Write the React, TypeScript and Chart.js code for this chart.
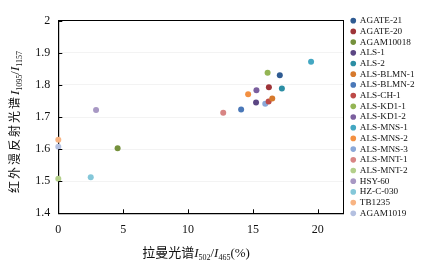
import React, { useEffect, useRef } from 'react';
import { Chart, registerables } from 'chart.js';

Chart.register(...registerables);

const seriesNames = [
  'AGATE-21', 'AGATE-20', 'AGAM10018', 'ALS-1', 'ALS-2', 'ALS-BLMN-1', 'ALS-BLMN-2',
  'ALS-CH-1', 'ALS-KD1-1', 'ALS-KD1-2', 'ALS-MNS-1', 'ALS-MNS-2', 'ALS-MNS-3',
  'ALS-MNT-1', 'ALS-MNT-2', 'HSY-60', 'HZ-C-030', 'TB1235', 'AGAM1019',
];
const ramanValues = [
  17.07, 16.23, 4.57, 15.24, 17.23, 16.49, 14.09, 16.21, 16.13, 15.27,
  19.48, 14.63, 15.95, 12.71, 0.0, 2.91, 2.5, 0.0, 0.0,
];
const infraredValues = [
  1.83, 1.793, 1.603, 1.745, 1.789, 1.758, 1.723, 1.748, 1.838, 1.783,
  1.872, 1.771, 1.741, 1.713, 1.508, 1.722, 1.512, 1.629, 1.607,
];
const seriesColors = [
  '#2f5b92', '#9e3438', '#75913c', '#5b4683', '#2c8ea4', '#d6792c', '#4a78b8',
  '#bd4a48', '#94b554', '#7b5f9e', '#43a7c2', '#f39041', '#8aa8d8', '#d88584',
  '#b3cf8a', '#a898c4', '#84c7d9', '#f8b483', '#b4c0e0',
];
const xTicks = [0, 5, 10, 15, 20];
const yTicks = [1.4, 1.5, 1.6, 1.7, 1.8, 1.9, 2.0];

const X_MIN = 0, X_MAX = 22, Y_MIN = 1.4, Y_MAX = 2.0;
const W = 439, H = 269;
const SERIF = '"Liberation Serif", "Times New Roman", serif';
const CJK = '"Noto Sans CJK SC", sans-serif';
const LEGEND_FONT_SIZE = 9.2;
const LEGEND_PAD = 1.5;

type Seg = { t: string; font: string; dy: number; sp?: number };

function segWidth(ctx: CanvasRenderingContext2D, s: Seg) {
  ctx.font = s.font;
  if (s.sp) {
    let w = 0;
    for (const ch of s.t) w += ctx.measureText(ch).width + s.sp;
    return w;
  }
  return ctx.measureText(s.t).width;
}

function drawRich(ctx: CanvasRenderingContext2D, segs: Seg[], cx: number, baseY: number) {
  let total = 0;
  for (const s of segs) total += segWidth(ctx, s);
  let x = cx - total / 2;
  ctx.textAlign = 'left';
  ctx.textBaseline = 'alphabetic';
  ctx.fillStyle = '#111';
  for (const s of segs) {
    ctx.font = s.font;
    if (s.sp) {
      for (const ch of s.t) {
        ctx.fillText(ch, x, baseY + s.dy);
        x += ctx.measureText(ch).width + s.sp;
      }
    } else {
      ctx.fillText(s.t, x, baseY + s.dy);
      x += ctx.measureText(s.t).width;
    }
  }
}

const xTitle: Seg[] = [
  { t: '拉曼光谱', font: `13px ${CJK}`, dy: 0 },
  { t: 'I', font: `italic 13px ${SERIF}`, dy: 0 },
  { t: '502', font: `8px ${SERIF}`, dy: 3 },
  { t: '/', font: `13px ${SERIF}`, dy: 0 },
  { t: 'I', font: `italic 13px ${SERIF}`, dy: 0 },
  { t: '465', font: `8px ${SERIF}`, dy: 3 },
  { t: '(%)', font: `13px ${SERIF}`, dy: 0 },
];
const yTitle: Seg[] = [
  { t: '红外漫反射光谱', font: `12px ${CJK}`, dy: 0, sp: 2 },
  { t: 'I', font: `italic 13px ${SERIF}`, dy: 0 },
  { t: '1095', font: `8px ${SERIF}`, dy: 3 },
  { t: '/', font: `13px ${SERIF}`, dy: 0 },
  { t: 'I', font: `italic 13px ${SERIF}`, dy: 0 },
  { t: '1157', font: `8px ${SERIF}`, dy: 3 },
];

const decorPlugin = {
  id: 'decor',
  beforeDraw(chart: any) {
    const ctx = chart.ctx;
    ctx.save();
    ctx.fillStyle = '#ffffff';
    ctx.fillRect(0, 0, chart.width, chart.height);
    ctx.restore();
  },
  afterDraw(chart: any) {
    const ctx: CanvasRenderingContext2D = chart.ctx;
    const { left, bottom } = chart.chartArea;
    const xs = chart.scales.x;
    const ys = chart.scales.y;
    ctx.save();
    ctx.strokeStyle = '#000';
    ctx.lineWidth = 1;
    ctx.beginPath();
    for (const v of xTicks) {
      const px = Math.round(xs.getPixelForValue(v)) + 0.5;
      ctx.moveTo(px, bottom);
      ctx.lineTo(px, bottom - 4);
    }
    for (const v of yTicks) {
      const py = Math.round(ys.getPixelForValue(v)) + 0.5;
      ctx.moveTo(left, py);
      ctx.lineTo(left + 4, py);
    }
    ctx.stroke();
    drawRich(ctx, xTitle, (chart.chartArea.left + chart.chartArea.right) / 2 - 5, 257);
    ctx.translate(19, (chart.chartArea.top + chart.chartArea.bottom) / 2 + 5);
    ctx.rotate(-Math.PI / 2);
    drawRich(ctx, yTitle, 0, 0);
    ctx.restore();
  },
};

export default function App() {
  const ref = useRef<HTMLCanvasElement | null>(null);
  useEffect(() => {
    const canvas = ref.current;
    if (!canvas) return;
    const mctx = document.createElement('canvas').getContext('2d')!;
    mctx.font = `${LEGEND_FONT_SIZE}px ${SERIF}`;
    let maxText = 0;
    for (const n of seriesNames) maxText = Math.max(maxText, mctx.measureText(n).width);
    const boxW = 4;
    const legendWidth = LEGEND_PAD + boxW + LEGEND_FONT_SIZE / 2 + maxText + 5;
    const legendLeft = 350;
    const padRight = Math.max(0, W - legendLeft - legendWidth);
    const plotRight = 344;
    const firstRowCenter = 20.7;
    const legendTop = firstRowCenter - LEGEND_PAD - LEGEND_FONT_SIZE / 2;

    const datasets = seriesNames.map((name, i) => ({
      label: name,
      data: [{ x: ramanValues[i], y: infraredValues[i] }],
      backgroundColor: seriesColors[i],
      borderColor: seriesColors[i],
      borderWidth: 0,
      pointRadius: 3,
      pointStyle: 'circle',
      clip: false,
    }));

    const chart = new Chart(canvas, {
      type: 'scatter',
      data: { datasets },
      options: {
        responsive: false,
        animation: false,
        devicePixelRatio: 1,
        layout: { padding: { top: legendTop, right: padRight, bottom: 0, left: 0 } },
        plugins: {
          tooltip: { enabled: false },
          legend: {
            position: 'right',
            align: 'start',
            labels: {
              usePointStyle: true,
              pointStyle: 'circle',
              boxWidth: boxW,
              boxHeight: 4,
              padding: LEGEND_PAD,
              color: '#111',
              font: { family: SERIF, size: LEGEND_FONT_SIZE },
            },
          },
        },
        scales: {
          x: {
            type: 'linear',
            position: 'bottom',
            min: X_MIN,
            max: X_MAX,
            afterBuildTicks: (s: any) => { s.ticks = xTicks.map((v) => ({ value: v })); },
            afterFit: (s: any) => { s.height = H - 213.3; },
            ticks: {
              padding: 9,
              maxRotation: 0,
              color: '#111',
              font: { family: SERIF, size: 12 },
              callback: (v: any) => String(v),
            },
            grid: { display: false, drawTicks: false },
            border: { display: true, color: '#000', width: 1.2 },
          },
          y: {
            type: 'linear',
            position: 'left',
            min: Y_MIN,
            max: Y_MAX,
            afterBuildTicks: (s: any) => { s.ticks = yTicks.map((v) => ({ value: v })); },
            afterFit: (s: any) => { s.width = 58.3; },
            ticks: {
              padding: 8,
              color: '#111',
              font: { family: SERIF, size: 12 },
              callback: (v: any) => (Math.abs(v - 2) < 1e-9 ? '2' : Number(v).toFixed(1)),
            },
            grid: { display: true, drawTicks: false, color: '#f3f3f3', lineWidth: 1 },
            border: { display: true, color: '#000', width: 1.2 },
          },
          xTop: {
            type: 'linear',
            position: 'top',
            axis: 'x',
            min: X_MIN,
            max: X_MAX,
            afterFit: (s: any) => { s.height = firstRowCenter - legendTop; },
            ticks: { display: false },
            grid: { display: false, drawTicks: false },
            border: { display: true, color: '#000', width: 1 },
          },
          yRight: {
            type: 'linear',
            position: 'right',
            axis: 'y',
            min: Y_MIN,
            max: Y_MAX,
            afterFit: (s: any) => { s.width = legendLeft - plotRight; },
            ticks: { display: false },
            grid: { display: false, drawTicks: false },
            border: { display: true, color: '#000', width: 1 },
          },
        },
      },
      plugins: [decorPlugin],
    } as any);
    return () => chart.destroy();
  }, []);

  return (
    <div style={{ position: 'absolute', left: 0, top: 0, width: W, height: H, background: '#fff' }}>
      <canvas ref={ref} width={W} height={H} style={{ display: 'block', width: W, height: H }} />
    </div>
  );
}
